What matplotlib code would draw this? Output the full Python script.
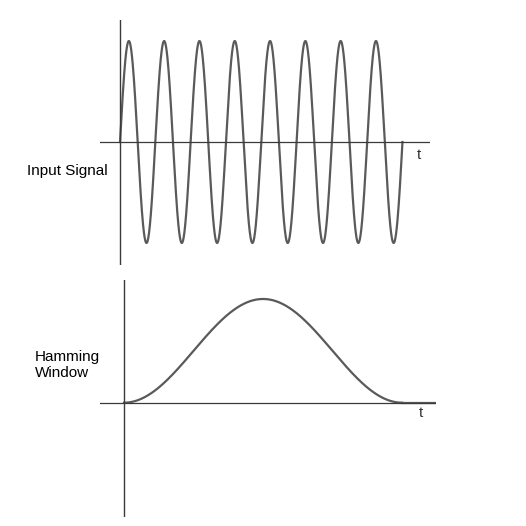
import numpy as np
import matplotlib.pyplot as plt

plt.rcParams['font.family'] = ['Liberation Sans', 'DejaVu Sans']

# values
n_cycles = 8            # full periods of the input signal
amplitude = 1.0
window_peak = 1.0
signal_label = "Input Signal"
window_label = "Hamming\nWindow"
axis_label = "t"

W, H = 526, 526
fig = plt.figure(figsize=(W / 100, H / 100), dpi=100)


def box(left, top, right, bottom):
    # pixel box -> figure fraction rect
    return [left / W, 1 - bottom / H, (right - left) / W, (bottom - top) / H]


curve_col = '#5a5a5a'
axis_col = '#3a3a3a'

# top: input signal
ax1 = fig.add_axes(box(100, 20, 430, 265))
t = np.linspace(0, n_cycles, 2000)
sig = amplitude * np.sin(2 * np.pi * t)
ax1.plot(t, sig, color=curve_col, lw=1.6)
ax1.axhline(0, color=axis_col, lw=0.9)
ax1.axvline(0, color=axis_col, lw=1.0)
ax1.set_xlim(-0.567, 8.78)
ax1.set_ylim(-1.218, 1.208)
ax1.axis('off')

# bottom: window
ax2 = fig.add_axes(box(100, 280, 436, 517))
u = np.linspace(0, 1, 1000)
win = window_peak * (0.5 - 0.5 * np.cos(2 * np.pi * u))
ax2.plot(u, win, color=curve_col, lw=1.6)
ax2.plot([1, 1.122], [0, 0], color=curve_col, lw=1.6)
ax2.axhline(0, color=axis_col, lw=0.9)
ax2.axvline(0, color=axis_col, lw=1.0)
ax2.set_xlim(-0.0863, 1.122)
ax2.set_ylim(-1.102, 1.183)
ax2.axis('off')

fig.text(27 / W, 1 - 171 / H, signal_label, fontsize=11, va='center', ha='left')
fig.text(35 / W, 1 - 365 / H, window_label, fontsize=11, va='center', ha='left',
         linespacing=1.1)
fig.text(419 / W, 1 - 155 / H, axis_label, fontsize=11, va='center', ha='center',
         color='#333333')
fig.text(421 / W, 1 - 413 / H, axis_label, fontsize=11, va='center', ha='center',
         color='#333333')

fig.savefig('out.png', dpi=100, facecolor='white')
